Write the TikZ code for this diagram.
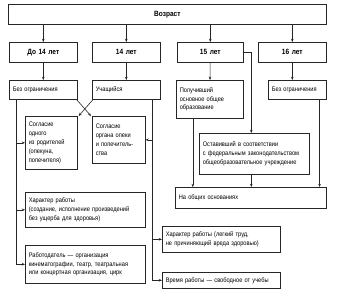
\documentclass[tikz,border=0pt]{standalone}
\usepackage{fontspec}
\setmainfont{Liberation Sans}[FakeStretch=0.86]
\usetikzlibrary{arrows.meta}

\begin{document}
\begin{tikzpicture}[x=1pt, y=-1pt, >={Stealth[length=3.2pt, width=2.6pt]},
    box/.style={draw=black!85, line width=0.6pt, anchor=north west, inner xsep=3.5pt,
        inner ysep=1pt, align=left, font=\fontsize{6.6}{8.8}\selectfont},
    head/.style={box, align=center, font=\fontsize{7.6}{9}\selectfont\bfseries},
    link/.style={draw=black!85, line width=0.6pt}]
    \useasboundingbox (0,0) rectangle (344,295);
    % Age
    \node[head, text width=311pt, minimum height=20pt] (age) at (8,4) {Возраст};
    \node[head, text width=61pt, minimum height=20pt] (d14) at (9,42) {До 14 лет};
    \node[head, text width=61pt, minimum height=20pt] (a14) at (92,42) {14 лет};
    \node[head, text width=59pt, minimum height=20pt] (a15) at (177,42) {15 лет};
    \node[head, text width=61pt, minimum height=20pt] (a16) at (258,42) {16 лет};
    % Second row
    \node[box, text width=61pt, minimum height=19pt] (free14) at (9,80) {Без ограничения};
    \node[box, text width=61pt, minimum height=19pt] (pupil) at (92,80) {Учащийся};
    \node[box, text width=60pt, minimum height=38pt] (basic) at (176,80)
        {Получивший\\основное общее\\образование};
    \node[box, text width=51pt, minimum height=19pt] (free16) at (268,80) {Без ограничения};
    % Conditions
    \node[box, text width=45pt, minimum height=53pt] (parent) at (25,116)
        {Согласие\\одного\\из родителей\\(опекуна,\\попечителя)};
    \node[box, text width=46pt, minimum height=47pt] (guard) at (92,116)
        {Согласие\\органа опеки\\и попечитель-\\ства};
    \node[box, text width=103pt, minimum height=41pt] (left) at (199,133)
        {Оставивший в соответствии\\с федеральным законодательством\\общеобразовательное учреждение};
    \node[box, text width=144pt, minimum height=21pt] (general) at (175,187)
        {На общих основаниях};
    \node[box, text width=113pt, minimum height=35pt] (kind1) at (25,192)
        {Характер работы\\(создание, исполнение произведений\\без ущерба для здоровья)};
    \node[box, text width=113pt, minimum height=38pt] (employer) at (25,245)
        {Работодатель — организация\\кинематографии, театр, театральная\\или концертная организация, цирк};
    \node[box, text width=111pt, minimum height=26pt] (kind2) at (162,226)
        {Характер работы (легкий труд,\\не причиняющий вреда здоровью)};
    \node[box, text width=111pt, minimum height=16pt] (hours) at (162,272)
        {Время работы — свободное от учебы};
    % From age
    \foreach \n in {d14, a14, a15, a16}
        \draw[link, ->] (age.south -| \n.north) -- (\n.north);
    \draw[link, ->] (d14) -- (free14);
    \draw[link, ->] (a14) -- (pupil);
    \draw[link, ->] (a15) -- (basic);
    \draw[link, ->] (a16.south) -- (a16.south |- free16.north);
    % 15 years
    \draw[link, ->] (a15.east) -| ([xshift=-3pt]left.north);
    \draw[link, ->] ([xshift=-17pt]basic.south) -- ([xshift=-17pt]basic.south |- general.north);
    \draw[link, ->] ([xshift=-3pt]left.south) -- ([xshift=-3pt]left.south |- general.north);
    \draw[link, ->] ([xshift=-7pt]free16.south east) -- ([xshift=-7pt]free16.south east |- general.north);
    % Cross
    \draw[link, ->] ([xshift=-1pt]free14.south east) -- ([xshift=-1pt]guard.north west);
    \draw[link, ->] ([xshift=1pt]pupil.south west) -- ([xshift=1pt]parent.north east);
    % Left trunk
    \coordinate (trunkL) at ([xshift=7pt]free14.south west);
    \draw[link, ->] (trunkL) |- (employer.west);
    \draw[link, ->] (trunkL |- parent.west) -- (parent.west);
    \draw[link, ->] (trunkL |- kind1.west) -- (kind1.west);
    % Right trunk
    \coordinate (trunkR) at ([xshift=-8pt]pupil.south east);
    \draw[link, ->] (trunkR) |- (hours.west);
    \draw[link, ->] (trunkR |- guard.east) -- (guard.east);
    \draw[link, ->] (trunkR |- kind2.west) -- (kind2.west);
\end{tikzpicture}
\end{document}
